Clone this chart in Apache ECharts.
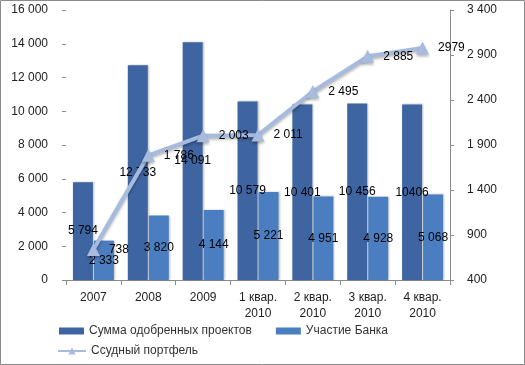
<!DOCTYPE html>
<html><head><meta charset="utf-8">
<script src="https://cdn.jsdelivr.net/npm/echarts@6/dist/echarts.min.js"></script>
<style>html,body{margin:0;padding:0;background:#fff}#c{width:525px;height:365px}</style>
</head><body><div id="c"></div>
<script>
var categories = ['2007','2008','2009','1 квар.\n2010','2 квар.\n2010','3 квар.\n2010','4 квар.\n2010'];
var approved = [5794, 12733, 14091, 10579, 10401, 10456, 10406];
var approvedLabels = ['5 794','12 733','14 091','10 579','10 401','10 456','10406'];
var bankShare = [2333, 3820, 4144, 5221, 4951, 4928, 5068];
var bankLabels = ['2 333','3 820','4 144','5 221','4 951','4 928','5 068'];
var loanPortfolio = [738, 1786, 2003, 2011, 2495, 2885, 2979];
var loanLabels = ['738','1 786','2 003','2 011','2 495','2 885','2979'];
var rightTicks = [400, 900, 1400, 1900, 2400, 2900, 3400];
var seriesNames = ['Сумма одобренных проектов', 'Участие Банка', 'Ссудный портфель'];

var FONT = 'Liberation Sans';
function fmt(v){ return String(v).replace(/\B(?=(\d{3})+(?!\d))/g, ' '); }
var chart = echarts.init(document.getElementById('c'), null, {renderer:'canvas'});
chart.setOption({
  animation:false,
  textStyle:{fontFamily:FONT},
  graphic:[{type:'rect', shape:{x:0.5,y:0.5,width:524,height:364}, style:{fill:'none', stroke:'#8a8a8a', lineWidth:1}, silent:true}],
  grid:{left:66, right:75, top:10, bottom:85, containLabel:false},
  legend:[
    {data:[seriesNames[0], seriesNames[1]], left:54, top:320, itemWidth:25, itemHeight:7, itemGap:24,
     textStyle:{fontFamily:FONT, fontSize:12, color:'#333'}, icon:'rect'},
    {data:[seriesNames[2]], left:52, top:340, itemWidth:28, itemHeight:9,
     textStyle:{fontFamily:FONT, fontSize:12, color:'#333'}}
  ],
  xAxis:{type:'category', data:categories,
    axisLine:{lineStyle:{color:'#8c8c8c'}},
    axisTick:{show:true, length:5, lineStyle:{color:'#8c8c8c'}},
    axisLabel:{fontFamily:FONT, fontSize:12, color:'#222', lineHeight:16, margin:10}},
  yAxis:[
    {type:'value', min:0, max:16000, interval:2000,
     axisLine:{show:false}, splitLine:{show:false},
     axisTick:{show:true, inside:false, length:4, lineStyle:{color:'#8c8c8c'}},
     axisLabel:{fontFamily:FONT, fontSize:12, color:'#222', margin:18, formatter:fmt}},
    {type:'value', min:400, max:3400, interval:100, position:'right',
     axisLine:{show:true, lineStyle:{color:'#8c8c8c'}}, splitLine:{show:false},
     axisTick:{show:true, length:4, lineStyle:{color:'#8c8c8c'}, customValues:rightTicks},
     axisLabel:{fontFamily:FONT, fontSize:12, color:'#222', margin:17,
       formatter:function(v){ return rightTicks.indexOf(v) >= 0 ? fmt(v) : ''; }}}
  ],
  series:[
    {name:seriesNames[0], type:'bar', data:approved, barWidth:20, barGap:'5%',
     itemStyle:{color:'#3E65A1', shadowColor:'rgba(0,0,0,0.25)', shadowBlur:2, shadowOffsetX:1},
     label:{show:true, position:'inside', fontFamily:FONT, fontSize:12, color:'#000',
       formatter:function(p){return approvedLabels[p.dataIndex];}}},
    {name:seriesNames[1], type:'bar', data:bankShare, barWidth:20,
     itemStyle:{color:'#4B7EC1', shadowColor:'rgba(0,0,0,0.25)', shadowBlur:2, shadowOffsetX:1},
     label:{show:true, position:'inside', fontFamily:FONT, fontSize:12, color:'#000',
       formatter:function(p){return bankLabels[p.dataIndex];}}},
    {name:seriesNames[2], type:'line', yAxisIndex:1, data:loanPortfolio,
     symbol:'triangle', symbolSize:13, z:5,
     lineStyle:{color:'#A7BBDF', width:4, shadowColor:'rgba(0,0,0,0.3)', shadowBlur:3, shadowOffsetY:2},
     itemStyle:{color:'#A7BBDF', shadowColor:'rgba(0,0,0,0.3)', shadowBlur:3, shadowOffsetY:2},
     label:{show:true, position:'right', distance:9, fontFamily:FONT, fontSize:12, color:'#000',
       formatter:function(p){return loanLabels[p.dataIndex];}}}
  ]
});
</script></body></html>
